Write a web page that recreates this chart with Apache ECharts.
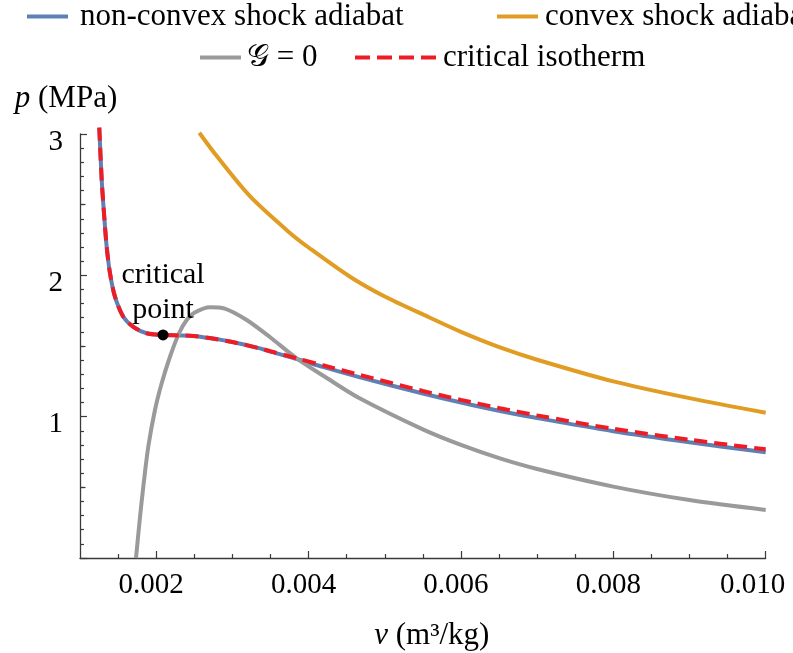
<!DOCTYPE html>
<html><head><meta charset="utf-8">
<script src="https://cdn.jsdelivr.net/npm/echarts@6/dist/echarts.min.js"></script>
<style>html,body{margin:0;padding:0;background:#fff}#c{width:793px;height:653px}</style>
</head><body><div id="c"></div>
<script>
// critical isotherm
const isoV = [0.001253, 0.001285, 0.001315, 0.001350, 0.001394, 0.001459, 0.001568, 0.001700, 0.001875, 0.002093, 0.002300, 0.002487, 0.002700, 0.003000, 0.003362, 0.003500, 0.003844, 0.004200, 0.004675, 0.005500, 0.006000, 0.006512, 0.007000, 0.008000, 0.009000, 0.010000];
const isoP = [3.045, 2.674, 2.439, 2.203, 2.014, 1.849, 1.707, 1.636, 1.590, 1.578, 1.575, 1.571, 1.556, 1.528, 1.483, 1.463, 1.413, 1.362, 1.295, 1.182, 1.119, 1.060, 1.009, 0.914, 0.837, 0.769];
// non-convex shock adiabat
const ncV = isoV;
const ncP = [3.045, 2.674, 2.439, 2.203, 2.014, 1.849, 1.707, 1.636, 1.590, 1.578, 1.575, 1.571, 1.556, 1.528, 1.483, 1.460, 1.408, 1.350, 1.278, 1.164, 1.100, 1.040, 0.990, 0.897, 0.819, 0.748];
// convex shock adiabat
const cxV = [0.002566, 0.0028, 0.00323, 0.003756, 0.004, 0.004544, 0.005, 0.005594, 0.006, 0.006512, 0.007, 0.008, 0.009, 0.010];
const cxP = [3.009, 2.84, 2.56, 2.30, 2.197, 1.99, 1.85, 1.70, 1.60, 1.49, 1.403, 1.25, 1.131, 1.028];
// G = 0
const gV = [0.001735, 0.001788, 0.001831, 0.001896, 0.001984, 0.002072, 0.002181, 0.0023, 0.0024, 0.0025, 0.002706, 0.0029, 0.003188, 0.0035, 0.003844, 0.00425, 0.00467, 0.0055, 0.006, 0.006512, 0.007, 0.008, 0.009, 0.010];
const gP = [0.0, 0.292, 0.505, 0.787, 1.047, 1.236, 1.424, 1.59, 1.684, 1.735, 1.774, 1.765, 1.684, 1.56, 1.413, 1.27, 1.13, 0.91, 0.80, 0.705, 0.63, 0.505, 0.41, 0.34];
// critical point
const critV = [0.00209];
const critP = [1.578];
// ticks
const xMajorTicks = [0.002, 0.004, 0.006, 0.008, 0.010];
const xMinorTicks = [0.0015, 0.0025, 0.003, 0.0035, 0.0045, 0.005, 0.0055, 0.0065, 0.007, 0.0075, 0.0085, 0.009, 0.0095];
const yMidTicks = [0.5, 1.5, 2.5];

const FONT = 'Liberation Serif';
const FS = 29;   // tick labels
const FL = 31;   // legend / titles
const AX = '#3a3a3a';
const pairs = (a, b) => a.map((v, i) => [v, b[i]]);

const names = ['non-convex shock adiabat', 'convex shock adiabat', '\u{1D4A2} = 0', 'critical isotherm'];
const ICON_SOLID = 'path://M0,0h41v4h-41z';
const ICON_DASH = 'path://M0,0h15v4h-15zM22,0h15v4h-15zM44,0h15v4h-15zM66,0h15v4h-15z';
const legendBase = (name, left, top, w, padL, icon) => ({
  data: [{name: name, icon: icon}], left: left, top: top, padding: 0, itemWidth: w, itemHeight: 4,
  selectedMode: false,
  textStyle: {fontFamily: FONT, fontSize: FL, color: '#000', padding: [0, 0, 0, padL]}
});

const chart = echarts.init(document.getElementById('c'), null, {renderer: 'canvas'});
chart.setOption({
  animation: false,
  backgroundColor: '#fff',
  grid: {left: 80, right: 27.3, top: 134, bottom: 95, containLabel: false, outerBoundsMode: 'none'},
  legend: [
    legendBase(names[0], 27, 1, 41, 7, ICON_SOLID),
    legendBase(names[1], 497, 1, 41, 2, ICON_SOLID),
    legendBase(names[2], 200, 42, 41, 1, ICON_SOLID),
    legendBase(names[3], 355, 42, 81, 2, ICON_DASH)
  ],
  xAxis: [{
    type: 'value', min: 0.001, max: 0.010, position: 'bottom',
    name: '{i|v} (m\u00B3/kg)', nameLocation: 'middle', nameGap: 62,
    nameTextStyle: {fontFamily: FONT, fontSize: FL, color: '#000', padding: [0, 0, 0, 18],
      rich: {i: {fontFamily: FONT, fontSize: FL, fontStyle: 'italic', color: '#000'}}},
    axisLine: {show: true, lineStyle: {color: AX, width: 1.3}},
    axisTick: {show: true, inside: true, length: 7, customValues: xMajorTicks, lineStyle: {color: AX, width: 1.2}},
    axisLabel: {show: true, customValues: xMajorTicks,
      formatter: v => '{d|' + v.toFixed(3) + '}' + (v > 0.0095 ? '{w| }' : '{s| }'), margin: 13,
      fontFamily: FONT, fontSize: FS, color: '#000',
      rich: {d: {fontFamily: FONT, fontSize: FS, color: '#000'}, s: {fontSize: 8, width: 10}, w: {fontSize: 8, width: 26}}},
    splitLine: {show: false}
  }, {
    type: 'value', min: 0.001, max: 0.010, position: 'bottom', offset: 0,
    axisLine: {show: false},
    axisTick: {show: true, inside: true, length: 4, customValues: xMinorTicks, lineStyle: {color: AX, width: 1.2}},
    axisLabel: {show: false}, splitLine: {show: false}
  }],
  yAxis: [{
    type: 'value', min: 0, max: 3, interval: 1, position: 'left',
    name: '{i|p} (MPa)', nameLocation: 'end', nameGap: 20,
    nameTextStyle: {fontFamily: FONT, fontSize: FL, color: '#000', padding: [0, 28, 0, 0],
      rich: {i: {fontFamily: FONT, fontSize: FL, fontStyle: 'italic', color: '#000'}}},
    axisLine: {show: true, lineStyle: {color: AX, width: 1.3}},
    axisTick: {show: true, inside: true, length: 7, lineStyle: {color: AX, width: 1.2}},
    minorTick: {show: true, splitNumber: 10, length: 4, lineStyle: {color: AX, width: 1.2}},
    axisLabel: {formatter: v => (v === 0 ? '' : '{s| }\n{d|' + v + '}'), margin: 17,
      fontFamily: FONT, fontSize: FS, color: '#000',
      rich: {s: {fontSize: 8, lineHeight: 16}, d: {fontFamily: FONT, fontSize: FS, lineHeight: 30, color: '#000'}}},
    splitLine: {show: false}, minorSplitLine: {show: false}
  }, {
    type: 'value', min: 0, max: 3, position: 'left', offset: 0,
    axisLine: {show: false},
    axisTick: {show: true, inside: true, length: 5.5, customValues: yMidTicks, lineStyle: {color: AX, width: 1.2}},
    axisLabel: {show: false}, splitLine: {show: false}
  }],
  series: [
    {name: names[0], type: 'line', data: pairs(ncV, ncP), symbol: 'none', smooth: 0.3,
      clip: false, color: '#5E81B5', lineStyle: {color: '#5E81B5', width: 4}, z: 2},
    {name: names[1], type: 'line', data: pairs(cxV, cxP), symbol: 'none', smooth: 0.3,
      clip: false, color: '#E19C24', lineStyle: {color: '#E19C24', width: 4}, z: 2},
    {name: names[2], type: 'line', data: pairs(gV, gP), symbol: 'none', smooth: 0.3,
      clip: true, color: '#9a9a9a', lineStyle: {color: '#9a9a9a', width: 4}, z: 3},
    {name: names[3], type: 'line', data: pairs(isoV, isoP), symbol: 'none', smooth: 0.3,
      clip: false, color: '#EE1C25', lineStyle: {color: '#EE1C25', width: 4, type: [13, 7]}, z: 4},
    {name: 'critical point', type: 'scatter', data: pairs(critV, critP), symbol: 'circle', symbolSize: 11,
      itemStyle: {color: '#000', opacity: 1}, z: 6,
      label: {show: true, position: 'top', distance: 2, formatter: 'critical\npoint',
        fontFamily: FONT, fontSize: 30, lineHeight: 35, color: '#000', opacity: 1, align: 'center'}}
  ]
});
</script></body></html>
